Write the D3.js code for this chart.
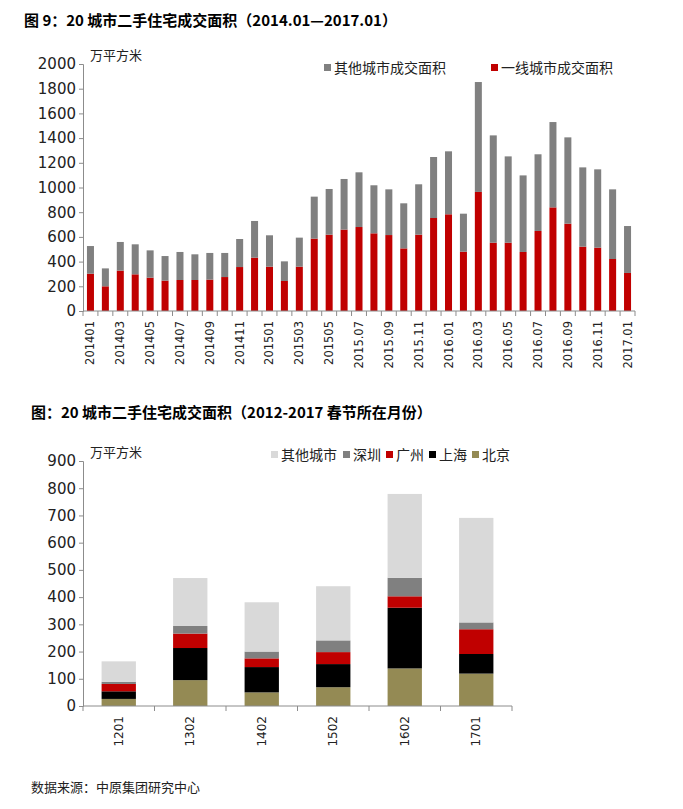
<!DOCTYPE html>
<html>
<head>
<meta charset="utf-8">
<script src="https://cdn.jsdelivr.net/npm/d3@7"></script>
<style>
  body { margin: 0; background: #fff; }
  svg { display: block; }
  .title { font-family: "Noto Sans CJK SC", sans-serif; font-weight: bold; font-size: 15px; fill: #000; }
  .cjk { font-family: "Noto Sans CJK SC", sans-serif; font-size: 14px; fill: #222; }
  .axis text { font-family: "DejaVu Sans", sans-serif; fill: #222; }
  .axis path, .axis line { stroke: #8c8c8c; }
</style>
</head>
<body>
<svg id="chart" width="683" height="809"></svg>
<script>
// ---------- top chart data (万平方米) ----------
var months = [
  "201401","201402","201403","201404","201405","201406","201407","201408","201409","201410","201411","201412",
  "201501","201502","201503","201504","201505","201506","2015.07","2015.08","2015.09","2015.10","2015.11","2015.12",
  "2016.01","2016.02","2016.03","2016.04","2016.05","2016.06","2016.07","2016.08","2016.09","2016.10","2016.11","2016.12",
  "2017.01"
];
var tier1 = [302,200,327,297,270,246,251,251,254,275,356,432,
             359,243,359,586,618,659,680,629,615,507,618,753,
             783,480,964,553,553,478,648,839,707,521,513,421,
             308];
var others = [224,145,232,243,221,199,227,208,216,195,227,297,
              254,159,235,340,370,410,443,389,370,365,408,494,
              510,308,890,869,699,620,621,691,699,642,634,564,
              380];
var topSeries = ["其他城市成交面积", "一线城市成交面积"];
var topColors = ["#808080", "#c00000"];
var topTicks = [0,200,400,600,800,1000,1200,1400,1600,1800,2000];

// ---------- bottom chart data ----------
var festMonths = ["1201","1302","1402","1502","1602","1701"];
var beijing  = [26, 95, 50, 69, 138, 119];
var shanghai = [28, 118, 93, 85, 223, 72];
var guangzhou = [27, 53, 32, 44, 42, 91];
var shenzhen = [8, 28, 25, 43, 68, 25];
var otherCities = [75, 176, 181, 199, 308, 384];
var botSeries = ["北京", "上海", "广州", "深圳", "其他城市"];
var botColors = ["#948a54", "#000000", "#c00000", "#808080", "#d9d9d9"];
var botTicks = [0,100,200,300,400,500,600,700,800,900];

var svg = d3.select("#chart");

// ---------- titles / notes ----------
svg.append("text").attr("class", "title").attr("x", 24).attr("y", 26)
    .text("图 9：20 城市二手住宅成交面积（2014.01—2017.01）");
svg.append("text").attr("class", "title").attr("x", 31).attr("y", 418)
    .text("图：20 城市二手住宅成交面积（2012-2017 春节所在月份）");
svg.append("text").attr("class", "cjk").style("font-size", "13px").attr("x", 31).attr("y", 792)
    .text("数据来源：中原集团研究中心");

// ---------- generic stacked bar drawer ----------
function drawStacked(opt) {
  var g = svg.append("g");

  var x = d3.scaleBand().domain(opt.cats).range([opt.x0, opt.x1]).paddingInner(opt.pad).paddingOuter(opt.pad / 2);
  var y = d3.scaleLinear().domain([0, opt.yMax]).range([opt.y0, opt.y1]);

  var rows = opt.cats.map(function(c, i) {
    var r = { cat: c };
    opt.keys.forEach(function(k, j) { r[k] = opt.values[j][i]; });
    return r;
  });
  var stacked = d3.stack().keys(opt.keys)(rows);

  g.selectAll("g.layer").data(stacked).enter().append("g")
      .attr("fill", function(d, i) { return opt.colors[i]; })
    .selectAll("rect").data(function(d) { return d; }).enter().append("rect")
      .attr("x", function(d) { return x(d.data.cat); })
      .attr("width", x.bandwidth())
      .attr("y", function(d) { return y(d[1]); })
      .attr("height", function(d) { return y(d[0]) - y(d[1]); });

  // y axis
  var ya = g.append("g").attr("class", "axis")
      .attr("transform", "translate(" + opt.x0 + ",0)")
      .call(d3.axisLeft(y).tickValues(opt.ticks).tickSize(4).tickPadding(3).tickFormat(d3.format("d")));
  ya.selectAll("text").style("font-size", opt.yFont + "px");

  // x axis: ticks on the band edges
  var xa = g.append("g").attr("class", "axis")
      .attr("transform", "translate(0," + opt.y0 + ")");
  xa.append("line").attr("x1", opt.x0).attr("x2", opt.x1).attr("y1", 0).attr("y2", 0);
  var step = x.step();
  var edges = d3.range(opt.cats.length + 1).map(function(i) { return opt.x0 + i * step; });
  xa.selectAll("line.tk").data(edges).enter().append("line").attr("class", "tk")
      .attr("x1", function(d) { return d; }).attr("x2", function(d) { return d; })
      .attr("y1", 0).attr("y2", 5);
  xa.selectAll("text").data(opt.cats.filter(function(c, i) { return i % opt.every == 0; })).enter().append("text")
      .attr("transform", function(d) {
        return "translate(" + (x(d) + x.bandwidth() / 2 + 4) + "," + (opt.labelGap) + ") rotate(-90)";
      })
      .attr("text-anchor", "end")
      .style("font-size", opt.xFont + "px")
      .text(function(d) { return d; });

  // unit
  g.append("text").attr("class", "cjk").attr("x", opt.x0 + 7).attr("y", opt.y1 - 4).style("font-size", "13px")
      .text("万平方米");
  return g;
}

drawStacked({
  cats: months, keys: ["t1", "oth"], values: [tier1, others], colors: [topColors[1], topColors[0]],
  x0: 83, x1: 635, y0: 311, y1: 64, yMax: 2000, ticks: topTicks, pad: 0.53,
  yFont: 15, xFont: 11.5, every: 2, labelGap: 10
});

drawStacked({
  cats: festMonths, keys: ["bj", "sh", "gz", "sz", "oth"],
  values: [beijing, shanghai, guangzhou, shenzhen, otherCities], colors: botColors,
  x0: 83, x1: 512, y0: 706, y1: 461, yMax: 900, ticks: botTicks, pad: 0.52,
  yFont: 15, xFont: 12, every: 1, labelGap: 10
});

// ---------- legends ----------
function legend(items, colors, xs, yc) {
  var lg = svg.append("g");
  items.forEach(function(name, i) {
    lg.append("rect").attr("x", xs[i]).attr("y", yc - 4).attr("width", 7).attr("height", 7).attr("fill", colors[i]);
    lg.append("text").attr("class", "cjk").attr("x", xs[i] + 10).attr("y", yc + 5).text(name);
  });
}
legend(topSeries, topColors, [324, 491], 68);
legend(["其他城市", "深圳", "广州", "上海", "北京"],
       [botColors[4], botColors[3], botColors[2], botColors[1], botColors[0]],
       [271, 343, 386, 429, 472], 455);
</script>
</body>
</html>
